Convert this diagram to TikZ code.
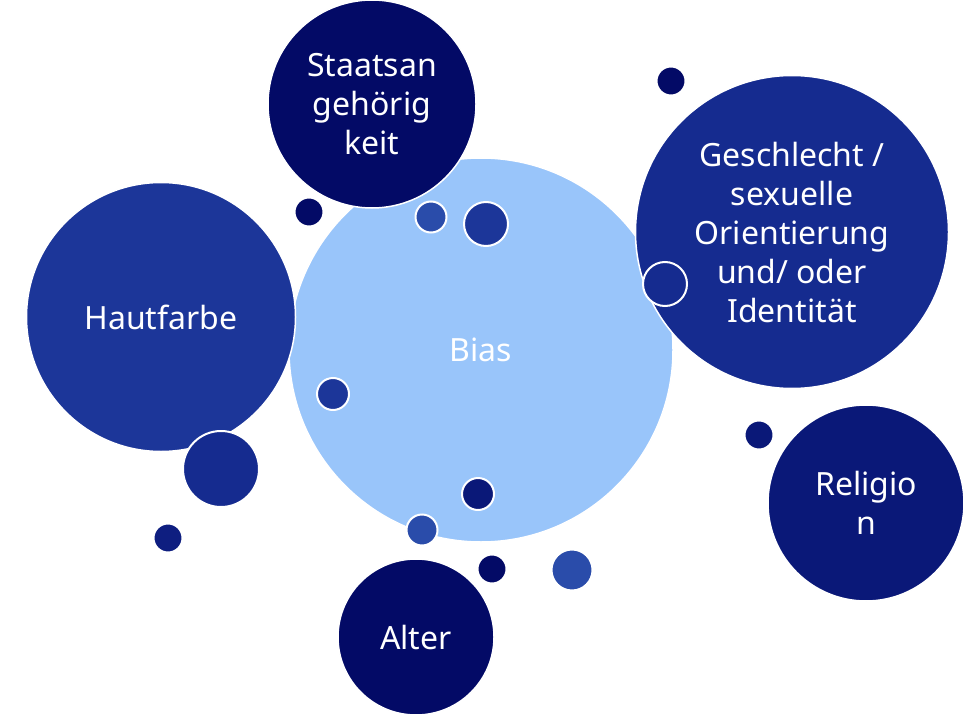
\documentclass[tikz,border=0pt]{standalone}
\usepackage{fontspec}
\setmainfont{Noto Sans}

\definecolor{biasblue}{HTML}{99C5FA}
\definecolor{navy}{HTML}{030A66}
\definecolor{deepblue}{HTML}{0A1878}
\definecolor{royal}{HTML}{152B8F}
\definecolor{midblue}{HTML}{1C3699}
\definecolor{softblue}{HTML}{2A4CAA}
\definecolor{inkblue}{HTML}{0E1E80}

\begin{document}
\begin{tikzpicture}[x=1pt,y=-1pt,
  bubble/.style={circle, draw=white, line width=1.5pt, inner sep=0pt,
    align=center, text=white, font=\fontsize{32}{39}\selectfont},
  dot/.style={circle, draw=white, line width=2pt, inner sep=0pt}]
\useasboundingbox (0,0) rectangle (963,714);
%----------main bubbles------------------------
\node[bubble, fill=biasblue, minimum size=384pt] (bias) at (481,350) {Bias};
\node[bubble, fill=midblue, minimum size=269pt] (haut) at (161,317) {Hautfarbe};
\node[bubble, fill=navy, minimum size=208pt] (staat) at (372,104) {Staatsan\\gehörig\\keit};
\node[bubble, fill=royal, minimum size=313pt] (geschl) at (792,232)
  {Geschlecht /\\sexuelle\\Orientierung\\und/ oder\\Identität};
\node[bubble, fill=deepblue, minimum size=196pt] (relig) at (866,503) {Religio\\n};
\node[bubble, fill=navy, minimum size=156pt] (alter) at (416,637) {Alter};
%----------small dots--------------------------
\node[dot, fill=navy, minimum size=29pt] (d1) at (309,212) {};
\node[dot, fill=navy, minimum size=29pt] (d2) at (671,81) {};
\node[dot, fill=softblue, minimum size=31pt] (d3) at (431,217) {};
\node[dot, fill=midblue, minimum size=44pt] (d4) at (486,224) {};
\node[dot, fill=royal, minimum size=44pt] (d5) at (665,284) {};
\node[dot, fill=midblue, minimum size=32pt] (d6) at (333,394) {};
\node[dot, fill=royal, minimum size=76pt] (d7) at (221,469) {};
\node[dot, fill=inkblue, minimum size=29pt] (d8) at (168,538) {};
\node[dot, fill=deepblue, minimum size=32pt] (d9) at (478,494) {};
\node[dot, fill=softblue, minimum size=31pt] (d10) at (422,530) {};
\node[dot, fill=navy, minimum size=29pt] (d11) at (492,569) {};
\node[dot, fill=softblue, minimum size=41pt] (d12) at (572,570) {};
\node[dot, fill=deepblue, minimum size=29pt] (d13) at (759,435) {};
\end{tikzpicture}
\end{document}
